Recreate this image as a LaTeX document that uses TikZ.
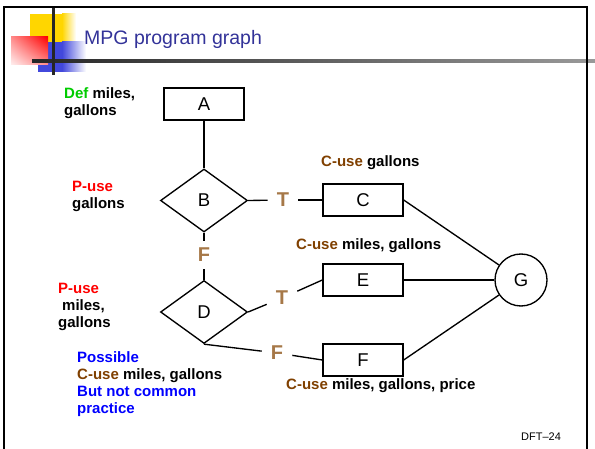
\documentclass[tikz,border=0pt]{standalone}
\usepackage{fontspec}
\setmainfont{Liberation Sans}
\usetikzlibrary{shapes.geometric,shadings}
\definecolor{titleblue}{RGB}{51,51,153}
\definecolor{cuse}{RGB}{128,64,0}
\definecolor{tfcol}{RGB}{166,120,72}
\definecolor{defgreen}{RGB}{0,204,0}
\definecolor{sqyellow}{RGB}{255,214,0}
\definecolor{sqblue}{RGB}{66,72,220}
\begin{document}
\begin{tikzpicture}[x=1pt,y=-1pt,
  box/.style={draw, line width=1.35pt, minimum width=80pt, minimum height=32pt, inner sep=0pt, font=\fontsize{18.5}{20}\selectfont},
  dia/.style={draw, diamond, line width=1.35pt, minimum width=87pt, minimum height=63pt, inner sep=0pt, font=\fontsize{18.5}{20}\selectfont},
  tf/.style={font=\fontsize{20}{22}\selectfont\bfseries, text=tfcol, inner xsep=9pt, inner ysep=5pt},
  lbl/.style={font=\fontsize{15}{17}\selectfont\bfseries, inner sep=0pt, align=left},
  conn/.style={line width=1.35pt}]
\useasboundingbox (0,0) rectangle (595,449);
\fill[white] (0,0) rectangle (595,449);
% logo decoration
\fill[sqyellow] (30,14) rectangle (62,42);
\shade[left color=sqyellow, right color=white] (62,14) rectangle (76,42);
\fill[sqblue] (38,42) rectangle (62,72);
\shade[left color=sqblue, right color=white] (62,42) rectangle (86,72);
\shade[upper left=red!45, upper right=red, lower left=red!6, lower right=red!45] (11,37) rectangle (48,65);
\shade[left color=black!85, right color=black!40] (32,59.8) rectangle (595,62.2);
\fill[black!85] (52,7) rectangle (54.6,75);
% frame
\draw[line width=2pt] (4,449) -- (4,7) -- (587,7) -- (587,449);
% title
\node[anchor=base west, inner sep=0pt, text=titleblue, font=\fontsize{19.5}{22}\selectfont] (title) at (84,44.5) {MPG program graph};
% nodes
\node[box] (A) at (204,104) {A};
\node[dia] (B) at (204,200.5) {B};
\node[box] (C) at (363,200) {C};
\node[dia] (D) at (204,312) {D};
\node[box] (E) at (363,280) {E};
\node[box] (F) at (363,360) {F};
\node[draw, circle, line width=1.35pt, minimum size=52pt, inner sep=0pt, font=\fontsize{18.5}{20}\selectfont] (G) at (521,280) {G};
% T/F labels
\node[tf] (tB) at (283,200) {T};
\node[tf, inner ysep=7pt] (fB) at (204,255) {F};
\node[tf] (tD) at (282,298) {T};
\node[tf] (fD) at (277,353) {F};
% connectors
\draw[conn] (A) -- (B);
\draw[conn] (B.east) -- (tB);
\draw[conn] (tB) -- (C.west);
\draw[conn] (B.south) -- (fB);
\draw[conn] (fB) -- (D.north);
\draw[conn] (D.east) -- (tD);
\draw[conn] (tD) -- (E.west);
\draw[conn] (D.south) -- (fD);
\draw[conn] (fD) -- (F.west);
\draw[conn] (C.east) -- (G);
\draw[conn] (E.east) -- (G);
\draw[conn] (F.east) -- (G);
% annotations
\node[lbl, anchor=north west] (defl) at (64,87.5) {\textcolor{defgreen}{Def} miles,\\gallons};
\node[lbl, anchor=north west] (pub) at (72,181) {\textcolor{red}{P-use}\\gallons};
\node[lbl, anchor=base west] (cuc) at (321,167) {\textcolor{cuse}{C-use} gallons};
\node[lbl, anchor=base west] (cue) at (296,250) {\textcolor{cuse}{C-use} miles, gallons};
\node[lbl, anchor=base west] (cuf) at (286,389) {\textcolor{cuse}{C-use} miles, gallons, price};
\node[lbl, anchor=north west] (pud) at (58,282.5) {\textcolor{red}{P-use}\\\hspace*{4pt}miles,\\gallons};
\node[lbl, anchor=north west, text=blue] (poss) at (77,351.5) {Possible\\\textcolor{cuse}{C-use} \textcolor{black}{miles, gallons}\\But not common\\practice};
\node[anchor=base west, inner sep=0pt, font=\fontsize{11}{13}\selectfont] (dft) at (521,440) {DFT–24};
\end{tikzpicture}
\end{document}
